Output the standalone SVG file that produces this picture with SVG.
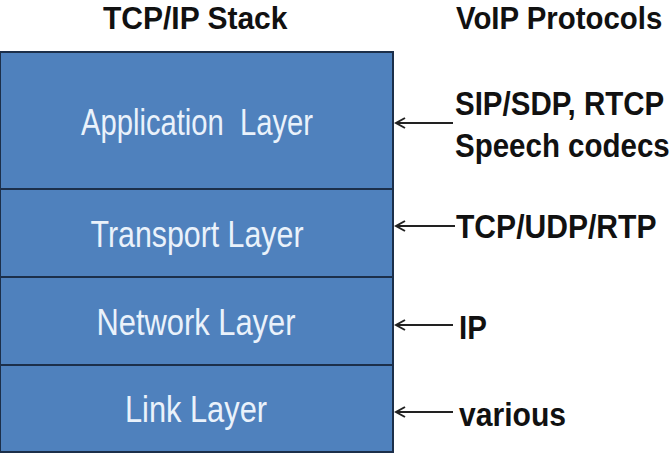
<svg xmlns="http://www.w3.org/2000/svg" width="671" height="457" viewBox="0 0 671 457">
  <style>
    .layer { fill: #4f81bd; stroke: #1c2f4a; stroke-width: 2; }
    .ltxt { font-family: "Liberation Sans", Arial, sans-serif; font-size: 37px; fill: #eaf2fb; text-anchor: middle; }
    .title { font-family: "Liberation Sans", Arial, sans-serif; font-size: 30px; font-weight: bold; fill: #111; }
    .proto { font-family: "Liberation Sans", Arial, sans-serif; font-size: 29.5px; font-weight: bold; fill: #111; }
    .arrow { stroke: #222; stroke-width: 2; fill: none; marker-end: url(#chev); }
  </style>
  <defs>
    <marker id="chev" markerUnits="userSpaceOnUse" viewBox="-12 -7 14 14" markerWidth="14" markerHeight="14" refX="0" refY="0" orient="auto">
      <path d="M-9,-5 L0,0 L-9,5" fill="none" stroke="#222" stroke-width="2"/>
    </marker>
  </defs>
  <rect width="671" height="457" fill="#ffffff"/>

  <text class="title" transform="translate(103,29) scale(1,1.06)" x="0" y="0">TCP/IP Stack</text>
  <text class="title" transform="translate(456,29) scale(0.98,1.06)" x="0" y="0">VoIP Protocols</text>

  <g id="application-layer">
    <rect class="layer" x="0" y="52" width="393" height="137"/>
    <text class="ltxt" x="197" y="135" textLength="232" lengthAdjust="spacingAndGlyphs">Application&#160; Layer</text>
  </g>
  <g id="transport-layer">
    <rect class="layer" x="0" y="189" width="393" height="88"/>
    <text class="ltxt" x="197" y="247" textLength="213" lengthAdjust="spacingAndGlyphs">Transport Layer</text>
  </g>
  <g id="network-layer">
    <rect class="layer" x="0" y="277" width="393" height="88"/>
    <text class="ltxt" x="196" y="335" textLength="199" lengthAdjust="spacingAndGlyphs">Network Layer</text>
  </g>
  <g id="link-layer">
    <rect class="layer" x="0" y="365" width="393" height="87"/>
    <text class="ltxt" x="196" y="422" textLength="142" lengthAdjust="spacingAndGlyphs">Link Layer</text>
  </g>

  <g id="voip-app">
    <text class="proto" transform="translate(455,115) scale(1,1.12)" x="0" y="0">SIP/SDP, RTCP</text>
    <text class="proto" transform="translate(455,157) scale(1,1.12)" x="0" y="0">Speech codecs</text>
  </g>
  <g id="voip-transport">
    <text class="proto" transform="translate(456,238) scale(1.02,1.12)" x="0" y="0">TCP/UDP/RTP</text>
  </g>
  <g id="voip-network">
    <text class="proto" transform="translate(459,339) scale(1,1.15)" x="0" y="0">IP</text>
  </g>
  <g id="voip-link">
    <text class="proto" transform="translate(459,426) scale(1.02,1.15)" x="0" y="0">various</text>
  </g>

  <g id="connectors">
    <line class="arrow" x1="453" y1="123" x2="396" y2="123"/>
    <line class="arrow" x1="455" y1="226" x2="396" y2="226"/>
    <line class="arrow" x1="453" y1="325" x2="396" y2="325"/>
    <line class="arrow" x1="453" y1="412" x2="396" y2="412"/>
  </g>
</svg>
